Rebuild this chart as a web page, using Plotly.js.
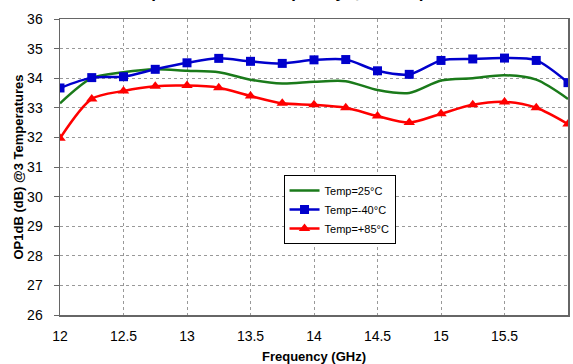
<!DOCTYPE html>
<html>
<head>
<meta charset="utf-8">
<script src="https://cdn.plot.ly/plotly-3.0.1.min.js"></script>
<style>html,body{margin:0;padding:0;background:#fff;}#chart{width:573px;height:364px;}</style>
</head>
<body>
<div id="chart"></div>
<script>
var freq = [12, 12.25, 12.5, 12.75, 13, 13.25, 13.5, 13.75, 14, 14.25, 14.5, 14.75, 15, 15.25, 15.5, 15.75, 16];
var temp25 = [33.15, 34.0, 34.2, 34.3, 34.25, 34.2, 33.95, 33.82, 33.88, 33.9, 33.6, 33.5, 33.92, 34.0, 34.1, 33.95, 33.3];
var tempM40 = [33.67, 34.02, 34.05, 34.3, 34.52, 34.67, 34.57, 34.5, 34.62, 34.63, 34.25, 34.13, 34.6, 34.65, 34.68, 34.6, 33.85];
var tempP85 = [31.97, 33.3, 33.57, 33.73, 33.75, 33.68, 33.4, 33.15, 33.1, 33.0, 32.72, 32.5, 32.8, 33.1, 33.2, 33.0, 32.45];
var names = ['Temp=25°C', 'Temp=-40°C', 'Temp=+85°C'];
var xTicks = [12, 12.5, 13, 13.5, 14, 14.5, 15, 15.5, 16];
var yTicks = [26, 27, 28, 29, 30, 31, 32, 33, 34, 35, 36];
var titleText = 'Output P1dB vs. Frequency @ 3 Temperatures';

var traces = [
  {x: freq, y: temp25, name: names[0], mode: 'lines', line: {color: '#1a7a1a', width: 2.5, shape: 'spline', smoothing: 0.8}},
  {x: freq, y: tempM40, name: names[1], mode: 'lines+markers', line: {color: '#0000cc', width: 2.5, shape: 'spline', smoothing: 0.8}, marker: {symbol: 'square', size: 9, color: '#0000cc'}},
  {x: freq, y: tempP85, name: names[2], mode: 'lines+markers', line: {color: '#ff0000', width: 2.5, shape: 'spline', smoothing: 0.8}, marker: {symbol: 'triangle-up', size: 10, color: '#ff0000'}}
];

var layout = {
  width: 573, height: 364,
  margin: {l: 60, r: 5, t: 19, b: 49},
  paper_bgcolor: '#fff', plot_bgcolor: '#fff',
  font: {family: 'Liberation Sans, Arial, sans-serif', size: 14, color: '#000'},
  annotations: [{text: '<b>' + titleText + '</b>', xref: 'paper', yref: 'paper', x: 0.49, y: 1.049, xanchor: 'center', yanchor: 'bottom', showarrow: false, font: {size: 17}}],
  showlegend: true,
  legend: {x: 0.44, y: 0.473, xanchor: 'left', yanchor: 'top', bgcolor: '#fff', bordercolor: '#000', borderwidth: 1, font: {size: 11}, tracegroupgap: 0, itemwidth: 30},
  xaxis: {range: [12, 16], tickvals: xTicks, ticktext: xTicks.map(String), showgrid: true, gridcolor: '#999', griddash: 'dot', gridwidth: 1, zeroline: false, showline: true, linecolor: '#666', linewidth: 1.5, mirror: true, ticks: 'outside', ticklen: 8, tickcolor: 'rgba(0,0,0,0)', tickfont: {size: 14}, title: {text: '<b>Frequency (GHz)</b>', font: {size: 13}, standoff: 16}},
  yaxis: {range: [26, 36], tickvals: yTicks, showgrid: true, gridcolor: '#999', griddash: 'dot', gridwidth: 1, zeroline: false, showline: true, linecolor: '#666', linewidth: 1.5, mirror: true, ticks: 'outside', ticklen: 5, tickcolor: '#666', ticklabelstandoff: 8, tickfont: {size: 14}, title: {text: '<b>OP1dB (dB) @3 Temperatures</b>', font: {size: 13}, standoff: 0}}
};

Plotly.newPlot('chart', traces, layout, {displayModeBar: false, staticPlot: true});
</script>
</body>
</html>
